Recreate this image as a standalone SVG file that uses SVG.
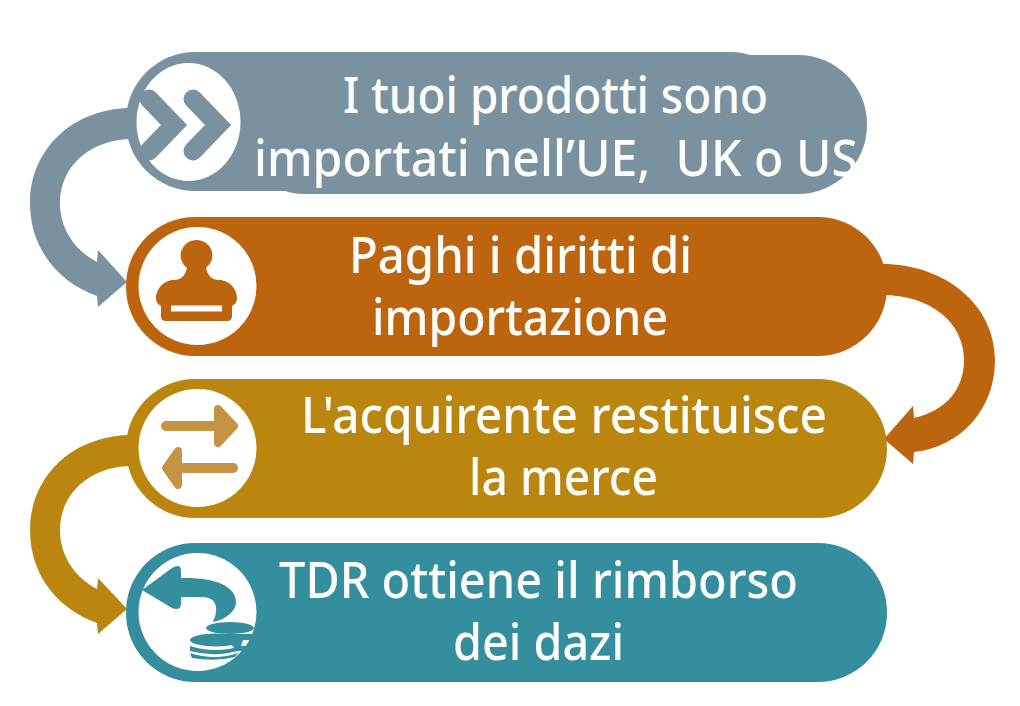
<svg xmlns="http://www.w3.org/2000/svg" width="1020" height="706" viewBox="0 0 1020 706">
<style>
.t{font-family:"Noto Sans","Open Sans","Liberation Sans",sans-serif;font-size:50px;font-weight:500;fill:#fdfdfb}
.c1{fill:#7a929f}.c2{fill:#bd640f}.c3{fill:#ba8610}.c4{fill:#358e9e}.w{fill:#fff}
</style>
<rect width="1020" height="706" fill="#fff"/>
<g id="connectors">
<path class="c1" d="M132,108C72,108 30,150 30,203C30,250 60,283 97,296L98,307L127,282L98,250L97,262C74,250 60,228 60,203C60,165 92,139 132,139Z"/>
<path class="c2" d="M882,264C945,264 995,305 995,360C995,410 960,447 914,452L913,464L884,439L913,406L914,418C945,411 964,390 964,360C964,322 930,295 882,295Z"/>
<path class="c3" d="M132,435C72,435 30,477 30,530C30,577 60,610 97,623L98,634L127,609L98,578L97,589C74,577 60,555 60,530C60,492 92,466 132,466Z"/>
</g>
<g id="node-1">
<rect class="c1" x="126" y="52" width="673" height="139" rx="69"/>
<rect class="c1" x="236" y="55" width="631" height="139" rx="69"/>
<ellipse class="w" cx="188.500" cy="122" rx="52" ry="59"/>
<path d="M149,99L174,125L149,151M193,99L218,125L193,151" fill="none" stroke="#7a929f" stroke-width="19" stroke-linecap="round" stroke-linejoin="miter"/>
<text class="t" x="343" y="113" textLength="425" lengthAdjust="spacingAndGlyphs">I tuoi prodotti sono</text>
<text class="t" x="254" y="176" textLength="604" lengthAdjust="spacingAndGlyphs" xml:space="preserve">importati nell’UE,  UK o US</text>
</g>
<g id="node-2">
<rect class="c2" x="126" y="217" width="761" height="139" rx="69"/>
<circle class="w" cx="197.500" cy="286" r="59"/>
<path class="c2" d="M196,240A15.500,15.500 0 0 1 206,268C208,276 212,280 219,280C230,280 237,290 237,298C237,303 234,305 232,306L232,316Q232,321 227,321L166,321Q161,321 161,316L161,306C159,305 156,303 156,298C156,290 163,280 174,280C181,280 185,276 187,268A15.500,15.500 0 0 1 196,240Z"/>
<rect class="w" x="171" y="305.500" width="51" height="6"/>
<text class="t" x="349" y="273" textLength="343" lengthAdjust="spacingAndGlyphs">Paghi i diritti di</text>
<text class="t" x="372" y="335" textLength="296" lengthAdjust="spacingAndGlyphs">importazione</text>
</g>
<g id="node-3">
<rect class="c3" x="126" y="379" width="761" height="139" rx="69"/>
<circle class="w" cx="197.500" cy="448" r="59"/>
<path d="M166,426H216M233,468H183" stroke="#c49344" stroke-width="10" stroke-linecap="round" fill="none"/>
<path d="M218,409L234,426L218,443ZM178,451L166,468L178,485Z" fill="#c49344" stroke="#c49344" stroke-width="8" stroke-linejoin="round"/>
<text class="t" x="301" y="433" textLength="526" lengthAdjust="spacingAndGlyphs">L'acquirente restituisce</text>
<text class="t" x="469" y="495" textLength="189" lengthAdjust="spacingAndGlyphs">la merce</text>
</g>
<g id="node-4">
<rect class="c4" x="126" y="543" width="761" height="139" rx="69"/>
<circle class="w" cx="197.500" cy="612" r="59"/>
<path class="c4" d="M142,590L172,568Q181,563 181,571L181,578C212,577 236,585 236,602C236,612 224,620 213,622C218,612 219,597 202,597L181,597L181,604Q181,611 172,608Z"/>
<g class="c4">
<ellipse cx="230" cy="628" rx="24" ry="6"/>
<path d="M222,634H253L250,640H243L241,646H246L243,651H238L236,650Z"/>
<ellipse cx="216" cy="640" rx="26" ry="6.500"/>
<path d="M190,646Q215,654 242,646L241,650Q215,658 190,651ZM190,653Q215,661 238,653L235,657Q215,662 192,658Z"/>
</g>
<text class="t" x="279" y="598" textLength="519" lengthAdjust="spacingAndGlyphs">TDR ottiene il rimborso</text>
<text class="t" x="453" y="660" textLength="171" lengthAdjust="spacingAndGlyphs">dei dazi</text>
</g>
</svg>
